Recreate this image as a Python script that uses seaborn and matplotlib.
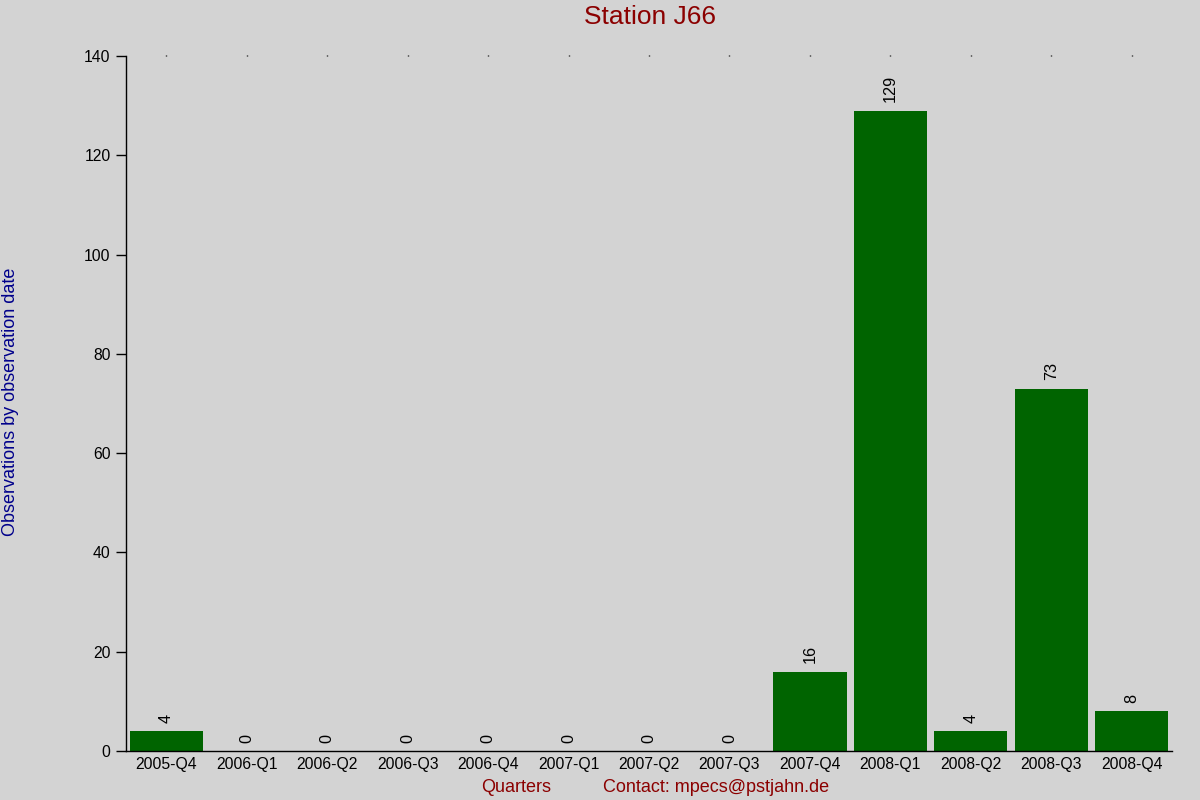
import matplotlib
matplotlib.use("Agg")
import matplotlib.pyplot as plt
import seaborn as sns
import pandas as pd

quarters = ["2005-Q4", "2006-Q1", "2006-Q2", "2006-Q3", "2006-Q4", "2007-Q1",
            "2007-Q2", "2007-Q3", "2007-Q4", "2008-Q1", "2008-Q2", "2008-Q3", "2008-Q4"]
counts = [4, 0, 0, 0, 0, 0, 0, 0, 16, 129, 4, 73, 8]

sns.set_theme(style="white")
plt.rcParams['font.family'] = ['Liberation Sans', 'DejaVu Sans']

bg = "#D3D3D3"
fig = plt.figure(figsize=(12, 8), dpi=100, facecolor=bg)
ax = fig.add_axes([126/1200, 1-751/800, (1172-126)/1200, (751-56)/800])
ax.set_facecolor(bg)

df = pd.DataFrame({"quarter": quarters, "count": counts})
sns.barplot(data=df, x="quarter", y="count", color="#006400", saturation=1,
            width=0.91, linewidth=0, edgecolor="none", ax=ax)
for c in ax.containers:
    ax.bar_label(c, labels=[str(v) for v in counts], rotation=90, padding=6,
                 fontsize=11.7, color="black")

ax.set_xlim(-0.5, len(quarters) - 0.5)
ax.set_ylim(0, 140)
ax.set_yticks(range(0, 141, 20))
ax.set_xlabel("")
ax.set_ylabel("")
for s in ["top", "right"]:
    ax.spines[s].set_visible(False)
for s in ["left", "bottom"]:
    ax.spines[s].set_color("black")
    ax.spines[s].set_linewidth(1)
ax.tick_params(axis="y", left=True, length=7, width=1, color="black",
               labelsize=11.3, labelcolor="black", pad=4)
ax.tick_params(axis="x", bottom=False, top=True, length=1, width=1,
               color="black", labelsize=11.3, labelcolor="black", pad=3)

fig.text(0.5417, 1-17/800, "Station J66", ha="center", va="center",
         fontsize=19, color="#8B0000")
fig.text(481/1200, 1-792/800, "Quarters", ha="left", va="baseline",
         fontsize=13, color="#8B0000")
fig.text(603/1200, 1-792/800, "Contact: mpecs@pstjahn.de", ha="left",
         va="baseline", fontsize=13, color="#8B0000")
fig.text(11/1200, 1-402/800, "Observations by observation date", ha="center",
         va="center", rotation=90, fontsize=13, color="#00008B")

fig.savefig("out.png", dpi=100, facecolor=bg)
